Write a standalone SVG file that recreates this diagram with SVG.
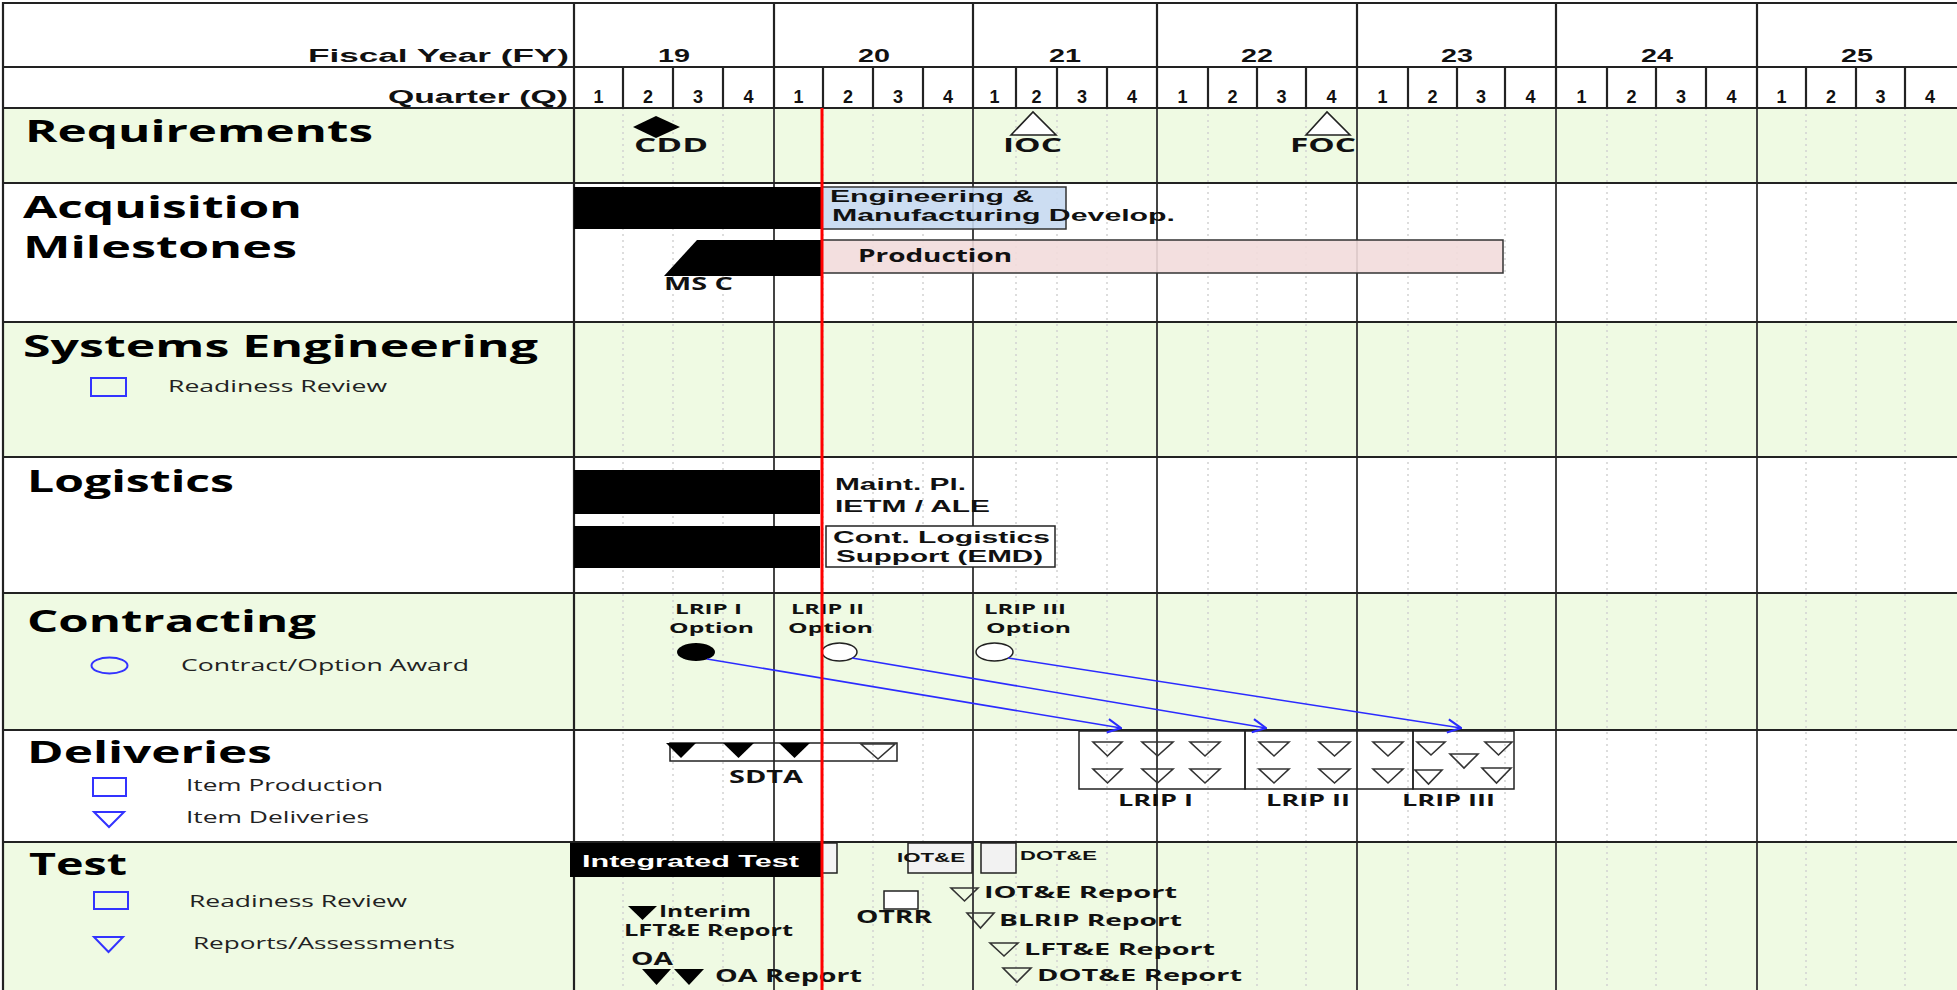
<svg xmlns="http://www.w3.org/2000/svg" width="1957" height="990" viewBox="0 0 1957 990">
<defs>
<style>
.hd{font-family:"Liberation Sans",Arial,sans-serif;font-weight:700;font-size:18px;fill:#111}
.ti{font-family:"Open Sans","Noto Sans",sans-serif;font-weight:700;font-size:31px;fill:#000}
.lg{font-family:"Open Sans","Noto Sans",sans-serif;font-size:16px;fill:#222}
.la{font-family:"Liberation Sans",Arial,sans-serif;font-weight:700;font-size:17px;fill:#111}
.lo{font-family:"Open Sans","Noto Sans",sans-serif;font-weight:700;font-size:16px;fill:#111}
.sym{fill:none;stroke:#3333ff;stroke-width:2}
.tri{fill:none;stroke:#333;stroke-width:1.6}
.blk{fill:#000}
.grn{fill:#effae3}
.dot{stroke:#d2d2d2;stroke-width:1.5;stroke-dasharray:2 4}
.yr{stroke:#444;stroke-width:2}
.hl{stroke:#222;stroke-width:2.2}
.arr{stroke:#2b2bff;stroke-width:1.6;fill:none}
</style>
<marker id="ah" viewBox="0 0 12 12" refX="11" refY="6" markerWidth="16" markerHeight="16" markerUnits="userSpaceOnUse" orient="auto">
<path d="M1,1 L11,6 L1,11" fill="none" stroke="#2b2bff" stroke-width="1.6"/>
</marker>
</defs>
<rect x="0" y="0" width="1957" height="990" fill="#fff"/>
<g id="grid">
<rect class="grn" x="3" y="108" width="1954" height="75"/>
<rect class="grn" x="3" y="322" width="1954" height="135"/>
<rect class="grn" x="3" y="593" width="1954" height="137"/>
<rect class="grn" x="3" y="842" width="1954" height="148"/>
<g class="dot">
<line x1="623" y1="108" x2="623" y2="990"/><line x1="673" y1="108" x2="673" y2="990"/><line x1="723" y1="108" x2="723" y2="990"/>
<line x1="823" y1="108" x2="823" y2="990"/><line x1="873" y1="108" x2="873" y2="990"/><line x1="923" y1="108" x2="923" y2="990"/>
<line x1="1016" y1="108" x2="1016" y2="990"/><line x1="1057" y1="108" x2="1057" y2="990"/><line x1="1107" y1="108" x2="1107" y2="990"/>
<line x1="1208" y1="108" x2="1208" y2="990"/><line x1="1257" y1="108" x2="1257" y2="990"/><line x1="1306" y1="108" x2="1306" y2="990"/>
<line x1="1408" y1="108" x2="1408" y2="990"/><line x1="1457" y1="108" x2="1457" y2="990"/><line x1="1505" y1="108" x2="1505" y2="990"/>
<line x1="1607" y1="108" x2="1607" y2="990"/><line x1="1656" y1="108" x2="1656" y2="990"/><line x1="1706" y1="108" x2="1706" y2="990"/>
<line x1="1806" y1="108" x2="1806" y2="990"/><line x1="1856" y1="108" x2="1856" y2="990"/><line x1="1905" y1="108" x2="1905" y2="990"/>
</g>
<g class="yr">
<line x1="774" y1="108" x2="774" y2="990"/><line x1="973" y1="108" x2="973" y2="990"/><line x1="1157" y1="108" x2="1157" y2="990"/>
<line x1="1357" y1="108" x2="1357" y2="990"/><line x1="1556" y1="108" x2="1556" y2="990"/><line x1="1757" y1="108" x2="1757" y2="990"/>
</g>
<g class="hl">
<line x1="2" y1="3" x2="1957" y2="3"/>
<line x1="3" y1="2" x2="3" y2="990"/>
<line x1="574" y1="2" x2="574" y2="990"/>
<line x1="3" y1="67" x2="1957" y2="67"/>
<line x1="3" y1="108" x2="1957" y2="108"/>
<line x1="3" y1="183" x2="1957" y2="183"/>
<line x1="3" y1="322" x2="1957" y2="322"/>
<line x1="3" y1="457" x2="1957" y2="457"/>
<line x1="3" y1="593" x2="1957" y2="593"/>
<line x1="3" y1="730" x2="1957" y2="730"/>
<line x1="3" y1="842" x2="1957" y2="842"/>
<line x1="774" y1="3" x2="774" y2="108"/><line x1="973" y1="3" x2="973" y2="108"/><line x1="1157" y1="3" x2="1157" y2="108"/>
<line x1="1357" y1="3" x2="1357" y2="108"/><line x1="1556" y1="3" x2="1556" y2="108"/><line x1="1757" y1="3" x2="1757" y2="108"/>
<line x1="623" y1="67" x2="623" y2="108"/><line x1="673" y1="67" x2="673" y2="108"/><line x1="723" y1="67" x2="723" y2="108"/>
<line x1="823" y1="67" x2="823" y2="108"/><line x1="873" y1="67" x2="873" y2="108"/><line x1="923" y1="67" x2="923" y2="108"/>
<line x1="1016" y1="67" x2="1016" y2="108"/><line x1="1057" y1="67" x2="1057" y2="108"/><line x1="1107" y1="67" x2="1107" y2="108"/>
<line x1="1208" y1="67" x2="1208" y2="108"/><line x1="1257" y1="67" x2="1257" y2="108"/><line x1="1306" y1="67" x2="1306" y2="108"/>
<line x1="1408" y1="67" x2="1408" y2="108"/><line x1="1457" y1="67" x2="1457" y2="108"/><line x1="1505" y1="67" x2="1505" y2="108"/>
<line x1="1607" y1="67" x2="1607" y2="108"/><line x1="1656" y1="67" x2="1656" y2="108"/><line x1="1706" y1="67" x2="1706" y2="108"/>
<line x1="1806" y1="67" x2="1806" y2="108"/><line x1="1856" y1="67" x2="1856" y2="108"/><line x1="1905" y1="67" x2="1905" y2="108"/>
</g>
</g>
<g id="header">
<text class="hd" x="308" y="62" textLength="261" lengthAdjust="spacingAndGlyphs">Fiscal Year (FY)</text>
<text class="hd" x="388" y="103" textLength="180" lengthAdjust="spacingAndGlyphs">Quarter (Q)</text>
<text class="hd" x="658" y="62" textLength="32" lengthAdjust="spacingAndGlyphs">19</text>
<text class="hd" x="858" y="62" textLength="32" lengthAdjust="spacingAndGlyphs">20</text>
<text class="hd" x="1049" y="62" textLength="32" lengthAdjust="spacingAndGlyphs">21</text>
<text class="hd" x="1241" y="62" textLength="32" lengthAdjust="spacingAndGlyphs">22</text>
<text class="hd" x="1441" y="62" textLength="32" lengthAdjust="spacingAndGlyphs">23</text>
<text class="hd" x="1641" y="62" textLength="32" lengthAdjust="spacingAndGlyphs">24</text>
<text class="hd" x="1841" y="62" textLength="32" lengthAdjust="spacingAndGlyphs">25</text>
<g text-anchor="middle">
<text class="hd" x="598.5" y="103">1</text><text class="hd" x="648" y="103">2</text><text class="hd" x="698" y="103">3</text><text class="hd" x="748.5" y="103">4</text>
<text class="hd" x="798.5" y="103">1</text><text class="hd" x="848" y="103">2</text><text class="hd" x="898" y="103">3</text><text class="hd" x="948" y="103">4</text>
<text class="hd" x="994.5" y="103">1</text><text class="hd" x="1036.5" y="103">2</text><text class="hd" x="1082" y="103">3</text><text class="hd" x="1132" y="103">4</text>
<text class="hd" x="1182.5" y="103">1</text><text class="hd" x="1232.5" y="103">2</text><text class="hd" x="1281.5" y="103">3</text><text class="hd" x="1331.5" y="103">4</text>
<text class="hd" x="1382.5" y="103">1</text><text class="hd" x="1432.5" y="103">2</text><text class="hd" x="1481" y="103">3</text><text class="hd" x="1530.5" y="103">4</text>
<text class="hd" x="1581.5" y="103">1</text><text class="hd" x="1631.5" y="103">2</text><text class="hd" x="1681" y="103">3</text><text class="hd" x="1731.5" y="103">4</text>
<text class="hd" x="1781.5" y="103">1</text><text class="hd" x="1831" y="103">2</text><text class="hd" x="1880.5" y="103">3</text><text class="hd" x="1930" y="103">4</text>
</g>
</g>
<g id="row-titles">
<text class="ti" x="25" y="142" textLength="348" lengthAdjust="spacingAndGlyphs">Requirements</text>
<text class="ti" x="23" y="218" textLength="279" lengthAdjust="spacingAndGlyphs">Acquisition</text>
<text class="ti" x="23" y="258" textLength="274" lengthAdjust="spacingAndGlyphs">Milestones</text>
<text class="ti" x="23" y="357" textLength="515" lengthAdjust="spacingAndGlyphs">Systems Engineering</text>
<text class="ti" x="27" y="492" textLength="207" lengthAdjust="spacingAndGlyphs">Logistics</text>
<text class="ti" x="27" y="632" textLength="289" lengthAdjust="spacingAndGlyphs">Contracting</text>
<text class="ti" x="27" y="763" textLength="245" lengthAdjust="spacingAndGlyphs">Deliveries</text>
<text class="ti" x="29" y="875" textLength="98" lengthAdjust="spacingAndGlyphs">Test</text>
</g>
<g id="legends">
<rect class="sym" x="91" y="378" width="35" height="18"/>
<text class="lg" x="168" y="392" textLength="219" lengthAdjust="spacingAndGlyphs">Readiness Review</text>
<ellipse class="sym" cx="109.5" cy="665.5" rx="18" ry="8"/>
<text class="lg" x="181" y="671" textLength="288" lengthAdjust="spacingAndGlyphs">Contract/Option Award</text>
<rect class="sym" x="93" y="778" width="33" height="18"/>
<text class="lg" x="186" y="791" textLength="197" lengthAdjust="spacingAndGlyphs">Item Production</text>
<polygon class="sym" points="94,812 124,812 109,827"/>
<text class="lg" x="186" y="823" textLength="183" lengthAdjust="spacingAndGlyphs">Item Deliveries</text>
<rect class="sym" x="94" y="892" width="34" height="17"/>
<text class="lg" x="189" y="907" textLength="218" lengthAdjust="spacingAndGlyphs">Readiness Review</text>
<polygon class="sym" points="94,937 123,937 108.5,952"/>
<text class="lg" x="193" y="949" textLength="262" lengthAdjust="spacingAndGlyphs">Reports/Assessments</text>
</g>
<g id="requirements">
<polygon class="blk" points="633,127 656,116 680,127 656,138"/>
<text class="lo" style="font-size:20px" x="634" y="152" textLength="74" lengthAdjust="spacingAndGlyphs">CDD</text>
<polygon points="1011,135 1033,112 1056,135" fill="#fff" stroke="#222" stroke-width="1.6"/>
<text class="lo" style="font-size:20px" x="1003" y="152" textLength="59" lengthAdjust="spacingAndGlyphs">IOC</text>
<polygon points="1306,135 1327,112 1350,135" fill="#fff" stroke="#222" stroke-width="1.6"/>
<text class="lo" style="font-size:20px" x="1290" y="152" textLength="66" lengthAdjust="spacingAndGlyphs">FOC</text>
</g>
<g id="acquisition">
<rect class="blk" x="574" y="187" width="248" height="42"/>
<rect x="822" y="187" width="244" height="42" fill="#c6d9f1" fill-opacity="0.9" stroke="#333" stroke-width="1.5"/>
<text class="la" x="830" y="202" textLength="204" lengthAdjust="spacingAndGlyphs">Engineering &amp;</text>
<text class="la" x="832" y="221" textLength="343" lengthAdjust="spacingAndGlyphs">Manufacturing Develop.</text>
<polygon class="blk" points="697,240 822,240 822,276 664,276"/>
<rect x="822" y="240" width="681" height="33" fill="#f2dcdb" fill-opacity="0.9" stroke="#333" stroke-width="1.5"/>
<text class="lo" style="font-size:18px" x="858" y="262" textLength="154" lengthAdjust="spacingAndGlyphs">Production</text>
<text class="lo" style="font-size:17px" x="664" y="290" textLength="69" lengthAdjust="spacingAndGlyphs">MS C</text>
</g>
<g id="logistics">
<rect class="blk" x="574" y="470" width="246" height="44"/>
<rect class="blk" x="574" y="526" width="246" height="42"/>
<text class="la" x="835" y="490" textLength="131" lengthAdjust="spacingAndGlyphs">Maint. Pl.</text>
<text class="la" x="835" y="512" textLength="155" lengthAdjust="spacingAndGlyphs">IETM / ALE</text>
<rect x="826" y="526" width="229" height="41" fill="#fff" stroke="#222" stroke-width="1.5"/>
<text class="la" x="833" y="543" textLength="217" lengthAdjust="spacingAndGlyphs">Cont. Logistics</text>
<text class="la" x="836" y="562" textLength="207" lengthAdjust="spacingAndGlyphs">Support (EMD)</text>
</g>
<g id="contracting">
<text class="lo" style="font-size:15px" x="675" y="614" textLength="67" lengthAdjust="spacingAndGlyphs">LRIP I</text>
<text class="lo" style="font-size:15px" x="669" y="633" textLength="85" lengthAdjust="spacingAndGlyphs">Option</text>
<ellipse cx="696" cy="652" rx="19" ry="9" fill="#000"/>
<text class="lo" style="font-size:15px" x="791" y="614" textLength="73" lengthAdjust="spacingAndGlyphs">LRIP II</text>
<text class="lo" style="font-size:15px" x="788" y="633" textLength="85" lengthAdjust="spacingAndGlyphs">Option</text>
<ellipse cx="839.5" cy="652" rx="17.5" ry="9" fill="#fff" stroke="#222" stroke-width="1.5"/>
<text class="lo" style="font-size:15px" x="984" y="614" textLength="82" lengthAdjust="spacingAndGlyphs">LRIP III</text>
<text class="lo" style="font-size:15px" x="986" y="633" textLength="85" lengthAdjust="spacingAndGlyphs">Option</text>
<ellipse cx="994.5" cy="652" rx="18.5" ry="9" fill="#fff" stroke="#222" stroke-width="1.5"/>
</g>
<g id="deliveries">
<rect x="670" y="743" width="227" height="18" fill="none" stroke="#222" stroke-width="1.5"/>
<polygon class="blk" points="666,743 696,743 681,758"/>
<polygon class="blk" points="723,743 754,743 738.5,758"/>
<polygon class="blk" points="779,743 810,743 794.5,758"/>
<polygon class="tri" points="861,744 895,744 878,759"/>
<text class="lo" style="font-size:18px" x="729" y="783" textLength="74" lengthAdjust="spacingAndGlyphs">SDTA</text>
<g fill="none" stroke="#222" stroke-width="1.5">
<rect x="1079" y="731" width="166" height="58"/>
<rect x="1245" y="731" width="168" height="58"/>
<rect x="1413" y="731" width="101" height="58"/>
</g>
<polygon class="tri" points="1093,742 1122,742 1107.5,756"/>
<polygon class="tri" points="1142,742 1173,742 1157.5,756"/>
<polygon class="tri" points="1190,742 1220,742 1205,756"/>
<polygon class="tri" points="1093,769 1122,769 1107.5,783"/>
<polygon class="tri" points="1142,769 1173,769 1157.5,783"/>
<polygon class="tri" points="1190,769 1220,769 1205,783"/>
<polygon class="tri" points="1259,742 1289,742 1274,756"/>
<polygon class="tri" points="1319,742 1350,742 1334.5,756"/>
<polygon class="tri" points="1373,742 1403,742 1388,756"/>
<polygon class="tri" points="1259,769 1289,769 1274,783"/>
<polygon class="tri" points="1319,769 1350,769 1334.5,783"/>
<polygon class="tri" points="1373,769 1403,769 1388,783"/>
<polygon class="tri" points="1417,742 1445,742 1431,755"/>
<polygon class="tri" points="1450,754 1478,754 1464,768"/>
<polygon class="tri" points="1485,742 1512,742 1498.5,755"/>
<polygon class="tri" points="1415,770 1442,770 1428.5,784"/>
<polygon class="tri" points="1482,768 1511,768 1496.5,783"/>
<text class="lo" x="1118" y="806" textLength="75" lengthAdjust="spacingAndGlyphs">LRIP I</text>
<text class="lo" x="1266" y="806" textLength="84" lengthAdjust="spacingAndGlyphs">LRIP II</text>
<text class="lo" x="1402" y="806" textLength="93" lengthAdjust="spacingAndGlyphs">LRIP III</text>
</g>
<g id="test">
<rect class="blk" x="570" y="843" width="252" height="34"/>
<text class="la" style="fill:#fff" x="582" y="867" textLength="217" lengthAdjust="spacingAndGlyphs">Integrated Test</text>
<rect x="822" y="843" width="15" height="30" fill="#f4f4f4" stroke="#222" stroke-width="1.5"/>
<rect x="908" y="843" width="64" height="30" fill="#f2f2f2" stroke="#222" stroke-width="1.5"/>
<text class="la" style="font-size:12px" x="897" y="862" textLength="68" lengthAdjust="spacingAndGlyphs">IOT&amp;E</text>
<rect x="981" y="843" width="35" height="30" fill="#f2f2f2" stroke="#222" stroke-width="1.5"/>
<text class="la" style="font-size:12px" x="1020" y="860" textLength="77" lengthAdjust="spacingAndGlyphs">DOT&amp;E</text>
<rect x="884" y="891" width="34" height="18" fill="#fff" stroke="#222" stroke-width="1.5"/>
<text class="lo" style="font-size:17px" x="856" y="923" textLength="76" lengthAdjust="spacingAndGlyphs">OTRR</text>
<polygon class="tri" points="951,888 978,888 964.5,901"/>
<text class="lo" x="984" y="898" textLength="193" lengthAdjust="spacingAndGlyphs">IOT&amp;E Report</text>
<polygon class="tri" points="967,913 994,913 980.5,928"/>
<text class="lo" x="999" y="926" textLength="183" lengthAdjust="spacingAndGlyphs">BLRIP Report</text>
<polygon class="tri" points="990,943 1018,943 1004,956"/>
<text class="lo" x="1024" y="955" textLength="191" lengthAdjust="spacingAndGlyphs">LFT&amp;E Report</text>
<polygon class="tri" points="1003,968 1031,968 1017,982"/>
<text class="lo" x="1037" y="981" textLength="205" lengthAdjust="spacingAndGlyphs">DOT&amp;E Report</text>
<polygon class="blk" points="628,906 657,906 642.5,920"/>
<text class="lo" x="659" y="917" textLength="92" lengthAdjust="spacingAndGlyphs">Interim</text>
<text class="lo" x="624" y="936" textLength="169" lengthAdjust="spacingAndGlyphs">LFT&amp;E Report</text>
<text class="lo" style="font-size:18px" x="631" y="965" textLength="42" lengthAdjust="spacingAndGlyphs">OA</text>
<polygon class="blk" points="642,969 671,969 656.5,985"/>
<polygon class="blk" points="674,969 704,969 689,985"/>
<text class="lo" style="font-size:18px" x="715" y="982" textLength="147" lengthAdjust="spacingAndGlyphs">OA Report</text>
</g>
<g id="connectors">
<line class="arr" x1="707" y1="659" x2="1121" y2="728" marker-end="url(#ah)"/>
<line class="arr" x1="852" y1="658" x2="1266" y2="728" marker-end="url(#ah)"/>
<line class="arr" x1="1008" y1="658" x2="1461" y2="728" marker-end="url(#ah)"/>
</g>
<g id="status-line">
<line x1="822" y1="108" x2="822" y2="990" stroke="#ff0000" stroke-width="3"/>
</g>
</svg>
